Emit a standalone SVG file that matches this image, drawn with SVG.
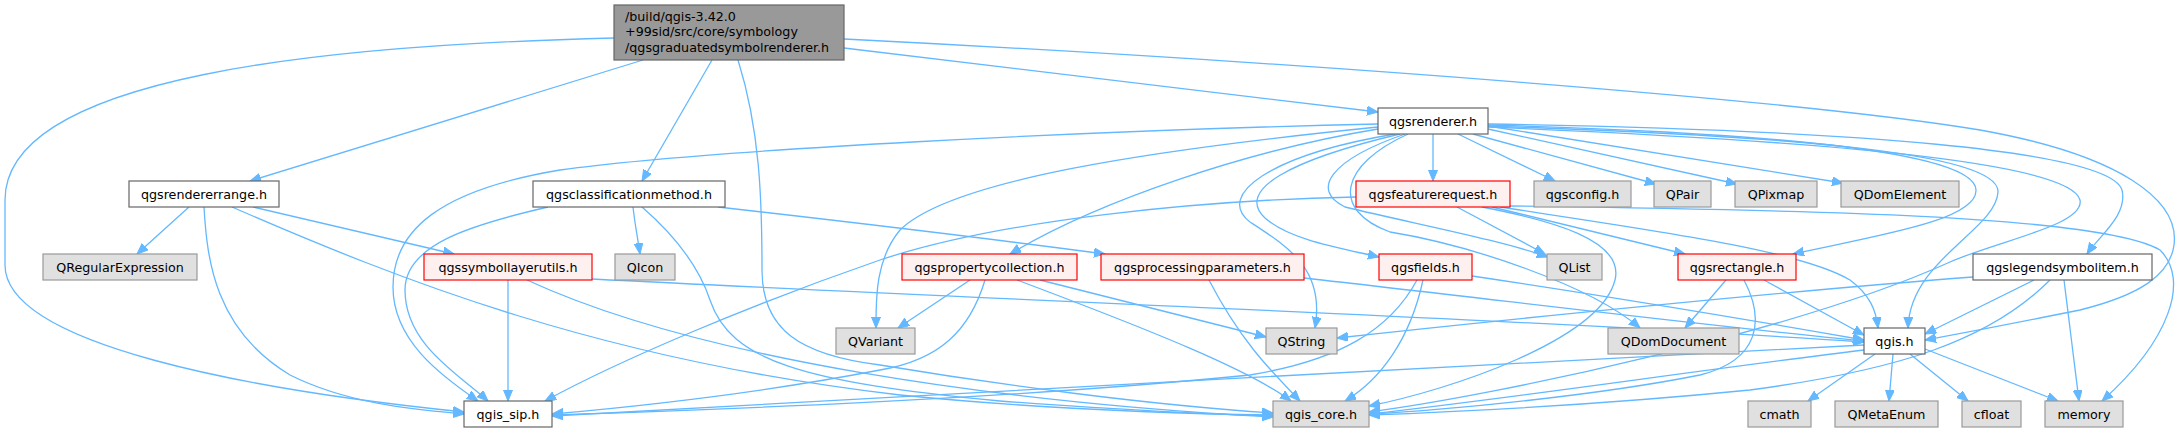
<svg xmlns="http://www.w3.org/2000/svg" width="2184" height="432" viewBox="0 0 2184 432">
<style>
.nd rect{stroke-width:1.2}
.main rect{fill:#999999;stroke:#666666}
.w rect{fill:#ffffff;stroke:#666666}
.x rect{fill:#e0e0e0;stroke:#999999}
.r rect{fill:#fff0f0;stroke:#ff0000}
text{font-family:"DejaVu Sans","Liberation Sans",sans-serif;font-size:12.7px;fill:#000000}
.nd text{text-anchor:middle}
.main text{text-anchor:start}
#edges path{fill:none;stroke:#63b8ff;stroke-width:1.3;marker-end:url(#ah)}
</style>
<defs>
<marker id="ah" markerUnits="userSpaceOnUse" markerWidth="12" markerHeight="10" refX="11" refY="4.5" orient="auto">
<path d="M0,0 L11,4.5 L0,9 z" fill="#63b8ff" stroke="#63b8ff" stroke-width="1"/>
</marker>
</defs>
<rect width="2184" height="432" fill="#ffffff"/>
<g id="edges">
<path d="M614,38 C330,45 5,75 5,200 L5,265 C5,345 250,390 464,412"/>
<path d="M643,60 L250,181"/>
<path d="M712,60 L642,181"/>
<path d="M738,60 C760,130 762,200 762,270 C762,330 800,355 880,365 C1000,385 1150,405 1273,413"/>
<path d="M844,48 L1378,112"/>
<path d="M844,39 C1300,62 1800,100 1980,130 C2120,155 2180,200 2174,245 C2170,275 2140,295 2080,310 C2020,322 1970,332 1925,340"/>
<path d="M189,207 L137,254"/>
<path d="M204,207 C207,260 215,330 290,375 C350,405 420,410 464,414"/>
<path d="M232,207 C400,280 600,360 900,395 C1050,410 1200,414 1273,415"/>
<path d="M253,207 L454,254"/>
<path d="M633,207 C635,225 638,240 640,254"/>
<path d="M548,207 C470,225 405,245 405,290 C405,345 460,375 488,401"/>
<path d="M642,207 C680,240 700,270 710,300 C730,360 800,382 1000,401 C1150,412 1230,415 1273,416"/>
<path d="M718,207 C850,222 1000,240 1105,254"/>
<path d="M508,280 L508,401"/>
<path d="M527,280 C700,360 1000,402 1273,417"/>
<path d="M592,279 C1000,300 1500,318 1864,342"/>
<path d="M970,280 L898,328"/>
<path d="M985,280 C970,330 940,360 880,370 C750,395 620,408 552,414"/>
<path d="M1017,280 C1150,330 1250,370 1291,401"/>
<path d="M1040,280 C1120,300 1200,320 1266,337"/>
<path d="M1209,280 C1240,340 1270,370 1300,401"/>
<path d="M1304,278 C1500,300 1700,325 1864,341"/>
<path d="M1417,280 C1390,330 1340,360 1250,375 C1000,400 700,410 552,415"/>
<path d="M1423,280 C1410,340 1380,380 1345,401"/>
<path d="M1472,276 C1600,295 1750,320 1864,340"/>
<path d="M1356,197 C1200,200 1000,220 880,260 C750,305 620,360 545,401"/>
<path d="M1457,207 L1545,254"/>
<path d="M1482,207 C1550,220 1625,240 1615,280 C1600,340 1450,390 1369,406"/>
<path d="M1492,207 L1685,254"/>
<path d="M1510,206 C1800,210 2100,215 2160,250 C2190,280 2170,340 2102,401"/>
<path d="M1500,207 C1650,230 1800,250 1850,280 C1870,295 1876,310 1878,328"/>
<path d="M1433,134 L1433,181"/>
<path d="M1458,134 L1555,181"/>
<path d="M1473,134 L1656,184"/>
<path d="M1488,129 L1737,184"/>
<path d="M1488,126 L1843,183"/>
<path d="M1488,125 C1750,132 1975,150 1976,190 C1977,220 1880,235 1793,254"/>
<path d="M1488,126 C1760,135 2000,150 1998,192 C1996,230 1910,260 1908,328"/>
<path d="M1488,127 C1800,140 2070,160 2080,200 C2085,225 2000,240 1950,262 C1800,330 1500,395 1369,412"/>
<path d="M1488,124 C1850,130 2110,150 2122,190 C2128,215 2100,235 2087,254"/>
<path d="M1378,124 C1100,130 700,150 560,170 C440,190 393,230 393,287 C393,340 440,375 478,401"/>
<path d="M1378,127 C1150,150 950,180 900,230 C875,260 876,300 876,328"/>
<path d="M1378,129 C1250,150 1100,200 1010,254"/>
<path d="M1395,134 C1270,155 1215,195 1250,222 C1290,248 1325,270 1315,328"/>
<path d="M1400,134 C1290,160 1235,190 1265,218 C1290,240 1340,248 1379,257"/>
<path d="M1405,134 C1330,160 1310,190 1345,207 C1420,225 1500,240 1548,257"/>
<path d="M1408,134 C1340,165 1330,210 1390,232 C1470,245 1590,285 1640,328"/>
<path d="M1726,280 L1685,328"/>
<path d="M1744,280 C1765,320 1760,360 1700,375 C1600,395 1450,410 1369,414"/>
<path d="M1764,280 L1864,335"/>
<path d="M1973,277 C1800,290 1500,320 1337,338"/>
<path d="M2034,280 L1925,334"/>
<path d="M2050,280 C1990,340 1900,370 1750,390 C1600,405 1450,412 1369,415"/>
<path d="M2064,280 L2079,401"/>
<path d="M1864,345 C1500,365 900,395 552,416"/>
<path d="M1864,350 C1700,370 1500,400 1369,414"/>
<path d="M1875,354 L1808,401"/>
<path d="M1893,354 L1889,401"/>
<path d="M1910,354 L1968,401"/>
<path d="M1925,349 L2058,401"/>
</g>
<g id="n_main" class="nd main"><rect x="614" y="5" width="230" height="55"/><text x="625" y="20.5">/build/qgis-3.42.0</text><text x="625" y="36">+99sid/src/core/symbology</text><text x="625" y="51.5">/qgsgraduatedsymbolrenderer.h</text></g>
<g id="n_rendererrange" class="nd w"><rect x="129" y="181" width="150" height="26"/><text x="204" y="198.5">qgsrendererrange.h</text></g>
<g id="n_classificationmethod" class="nd w"><rect x="533" y="181" width="192" height="26"/><text x="629" y="198.5">qgsclassificationmethod.h</text></g>
<g id="n_renderer" class="nd w"><rect x="1378" y="108" width="110" height="26"/><text x="1433" y="125.5">qgsrenderer.h</text></g>
<g id="n_featurerequest" class="nd r"><rect x="1356" y="181" width="154" height="26"/><text x="1433" y="198.5">qgsfeaturerequest.h</text></g>
<g id="n_config" class="nd x"><rect x="1534" y="181" width="97" height="26"/><text x="1582.5" y="198.5">qgsconfig.h</text></g>
<g id="n_qpair" class="nd x"><rect x="1654" y="181" width="57" height="26"/><text x="1682.5" y="198.5">QPair</text></g>
<g id="n_qpixmap" class="nd x"><rect x="1735" y="181" width="82" height="26"/><text x="1776" y="198.5">QPixmap</text></g>
<g id="n_qdomelement" class="nd x"><rect x="1841" y="181" width="118" height="26"/><text x="1900" y="198.5">QDomElement</text></g>
<g id="n_qregexp" class="nd x"><rect x="43" y="254" width="154" height="26"/><text x="120" y="271.5">QRegularExpression</text></g>
<g id="n_symbollayerutils" class="nd r"><rect x="424" y="254" width="168" height="26"/><text x="508" y="271.5">qgssymbollayerutils.h</text></g>
<g id="n_qicon" class="nd x"><rect x="615" y="254" width="60" height="26"/><text x="645" y="271.5">QIcon</text></g>
<g id="n_propertycollection" class="nd r"><rect x="902" y="254" width="175" height="26"/><text x="989.5" y="271.5">qgspropertycollection.h</text></g>
<g id="n_processingparameters" class="nd r"><rect x="1101" y="254" width="203" height="26"/><text x="1202.5" y="271.5">qgsprocessingparameters.h</text></g>
<g id="n_fields" class="nd r"><rect x="1379" y="254" width="93" height="26"/><text x="1425.5" y="271.5">qgsfields.h</text></g>
<g id="n_qlist" class="nd x"><rect x="1547" y="254" width="55" height="26"/><text x="1574.5" y="271.5">QList</text></g>
<g id="n_rectangle" class="nd r"><rect x="1678" y="254" width="118" height="26"/><text x="1737" y="271.5">qgsrectangle.h</text></g>
<g id="n_legendsymbolitem" class="nd w"><rect x="1973" y="254" width="179" height="26"/><text x="2062.5" y="271.5">qgslegendsymbolitem.h</text></g>
<g id="n_qvariant" class="nd x"><rect x="836" y="328" width="79" height="26"/><text x="875.5" y="345.5">QVariant</text></g>
<g id="n_qstring" class="nd x"><rect x="1266" y="328" width="71" height="26"/><text x="1301.5" y="345.5">QString</text></g>
<g id="n_qdomdocument" class="nd x"><rect x="1608" y="328" width="131" height="26"/><text x="1673.5" y="345.5">QDomDocument</text></g>
<g id="n_qgis" class="nd w"><rect x="1864" y="328" width="61" height="26"/><text x="1894.5" y="345.5">qgis.h</text></g>
<g id="n_qgis_sip" class="nd w"><rect x="464" y="401" width="88" height="26"/><text x="508" y="418.5">qgis_sip.h</text></g>
<g id="n_qgis_core" class="nd x"><rect x="1273" y="401" width="96" height="26"/><text x="1321" y="418.5">qgis_core.h</text></g>
<g id="n_cmath" class="nd x"><rect x="1748" y="401" width="63" height="26"/><text x="1779.5" y="418.5">cmath</text></g>
<g id="n_qmetaenum" class="nd x"><rect x="1835" y="401" width="103" height="26"/><text x="1886.5" y="418.5">QMetaEnum</text></g>
<g id="n_cfloat" class="nd x"><rect x="1962" y="401" width="59" height="26"/><text x="1991.5" y="418.5">cfloat</text></g>
<g id="n_memory" class="nd x"><rect x="2045" y="401" width="78" height="26"/><text x="2084" y="418.5">memory</text></g>
</svg>
